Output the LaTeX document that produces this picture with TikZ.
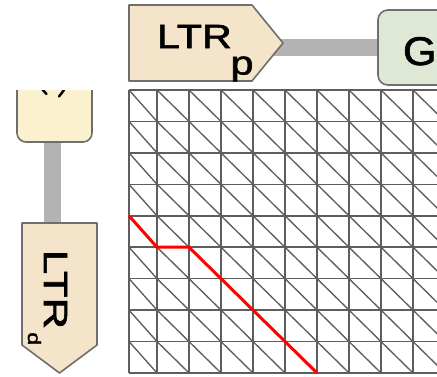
\documentclass[tikz,border=0pt]{standalone}
\usepackage{fontspec}
\setmainfont{Liberation Sans}
\newfontfamily\heavyfont[FakeBold=1.6]{Liberation Sans}
\usetikzlibrary{backgrounds}
\definecolor{ltrbeige}{HTML}{F4E4C9}
\definecolor{paleyellow}{HTML}{FCF1CF}
\definecolor{palegreen}{HTML}{DEE8D4}
\definecolor{edgegray}{HTML}{6E6E6E}
\definecolor{linkgray}{HTML}{B3B3B3}
\definecolor{gridgray}{HTML}{5E5E5E}
\tikzset{
  body/.style={inner sep=0pt, outer sep=0pt},
  shapeedge/.style={draw=edgegray, line width=1.6pt, line join=round},
  boxnode/.style={body, shapeedge, rounded corners=9pt},
  link/.style={draw=linkgray, line width=17pt},
  gridline/.style={draw=gridgray, line width=1.5pt},
  diagline/.style={draw=gridgray, line width=1.35pt},
  pathline/.style={draw=red, line width=3pt, line join=round},
  textlabel/.style={inner sep=0pt, outer sep=0pt},
}
\newcommand\ltrfont{\heavyfont\fontsize{33.5}{40}\selectfont}

\begin{document}
\begin{tikzpicture}[x=1pt,y=-1pt]
\useasboundingbox (0,0) rectangle (437,376);
\clip (0,0) rectangle (437,376);

% alignment grid: cells split by their falling diagonal
\foreach \k in {0,...,9}
  \draw[gridline] (129,{90+31.44*\k}) -- (445,{90+31.44*\k});
\foreach \xa in {129,157,189,221,253,285,317,349,381,413,445}
  \draw[gridline] (\xa,90) -- (\xa,373);
\foreach \xa/\xb in {129/157,157/189,189/221,221/253,253/285,285/317,317/349,349/381,381/413,413/445}
  \foreach \k in {0,...,8}
    \draw[diagline] (\xa,{90+31.44*\k}) -- (\xb,{90+31.44*(\k+1)});

% traced path through the grid
\draw[pathline] (129,{90+31.44*4}) -- (157,{90+31.44*5}) -- (189,{90+31.44*5})
  -- (221,{90+31.44*6}) -- (253,{90+31.44*7}) -- (285,{90+31.44*8}) -- (317,{90+31.44*9});

% horizontal sequence: LTR_p block and G block
\node[body, minimum width=123pt, minimum height=76pt] (ltrp) at (190.5,43) {};
\coordinate (ltrptip) at (283,43);
\path[shapeedge, fill=ltrbeige] (ltrp.north west) -- (ltrp.north east) -- (ltrptip)
  -- (ltrp.south east) -- (ltrp.south west) -- cycle;
\node[textlabel, anchor=base west] (ltrplabel) at (157,48)
  {\ltrfont\scalebox{1.23}[1]{LTR\kern-1pt\raisebox{-26.5pt}{p}}};

\node[boxnode, rounded corners=10pt, fill=palegreen, minimum width=120pt, minimum height=75pt, anchor=west] (g) at (378,47.5) {};
\node[textlabel, anchor=base west] (glabel) at (403,65) {\heavyfont\fontsize{40}{48}\selectfont\scalebox{1.08}[1]{G}};

% vertical sequence: upper block and LTR_d block
\begin{scope}
  \clip (0,90) rectangle (129,376);
  \node[boxnode, fill=paleyellow, minimum width=75pt, minimum height=100pt, anchor=south] (upper) at (54.5,142) {};
  \draw[black, line width=2.4pt, line cap=round] (42,89) -- (46.5,94);
  \draw[black, line width=2.4pt, line cap=round] (64,90) -- (59,96.5);
\end{scope}

\node[body, minimum width=75pt, minimum height=122pt] (ltrd) at (59.5,284) {};
\coordinate (ltrdtip) at (59.5,373);
\path[shapeedge, fill=ltrbeige] (ltrd.north west) -- (ltrd.north east) -- (ltrd.south east)
  -- (ltrdtip) -- (ltrd.south west) -- cycle;
\node[textlabel, rotate=-90, anchor=base west] (ltrdlabel) at (44,250)
  {\ltrfont\scalebox{1.3}[1]{LTR\kern2.5pt\raisebox{-16pt}{\fontsize{18}{21}\selectfont d}}};

% connectors behind the blocks
\begin{pgfonlayer}{background}
  \draw[link] (ltrp.center |- g.west) -- (g.west);
  \draw[link] ([xshift=-2pt]upper.south) -- ([xshift=-2pt]upper.south |- ltrd.north);
\end{pgfonlayer}
\end{tikzpicture}
\end{document}
